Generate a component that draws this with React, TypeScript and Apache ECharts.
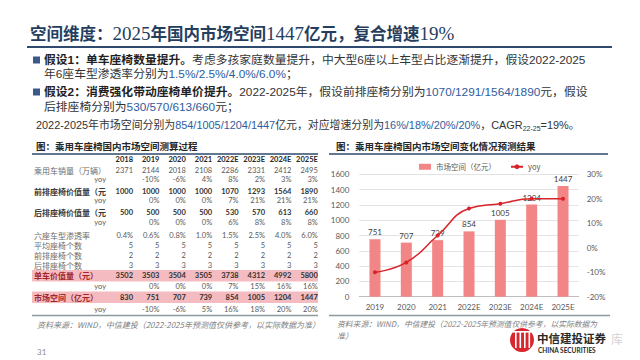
import React, { useEffect, useRef } from "react";
import * as echarts from "echarts";

// ---------- chart data ----------
const chartCategories = ["2019", "2020", "2021", "2022E", "2023E", "2024E", "2025E"];
const marketSpaceValues = [751, 707, 739, 854, 1005, 1204, 1447];
const marketYoyValues = [-10, -6, 5, 16, 18, 20, 20];

// ---------- table data ----------
const tableYears = ["2018", "2019", "2020", "2021", "2022E", "2023E", "2024E", "2025E"];
const salesVolume = ["2371", "2144", "2018", "2108", "2286", "2331", "2412", "2495"];
const salesYoy = ["", "-10%", "-6%", "4%", "8%", "2%", "3%", "3%"];
const frontSeatValue = ["1000", "1000", "1000", "1000", "1070", "1293", "1564", "1890"];
const frontSeatYoy = ["", "0%", "0%", "0%", "7%", "21%", "21%", "21%"];
const rearSeatValue = ["500", "500", "500", "500", "530", "570", "613", "660"];
const rearSeatYoy = ["", "0%", "0%", "0%", "6%", "8%", "8%", "8%"];
const sixSeatRate = ["0.4%", "0.6%", "0.8%", "1.0%", "1.5%", "2.5%", "4.0%", "6.0%"];
const avgSeats = ["5", "5", "5", "5", "5", "5", "5", "5"];
const frontSeats = ["2", "2", "2", "2", "2", "2", "2", "2"];
const rearSeats = ["3", "3", "3", "3", "3", "3", "3", "3"];
const perCarValue = ["3502", "3503", "3504", "3505", "3738", "4312", "4992", "5800"];
const perCarYoy = ["", "0%", "0%", "0%", "7%", "15%", "16%", "16%"];
const marketSpaceTable = ["830", "751", "707", "739", "854", "1005", "1204", "1447"];
const marketSpaceYoy = ["", "-10%", "-6%", "5%", "16%", "18%", "20%", "20%"];

const rowLabels = [
  "乘用车销量（万辆）", "yoy", "前排座椅价值量（元", "yoy", "后排座椅价值量（元", "yoy",
  "六座车型渗透率", "平均座椅个数", "前排座椅个数", "后排座椅个数",
  "单车价值量（元）", "yoy", "市场空间（亿元）", "yoy",
];
const rowValues = [
  salesVolume, salesYoy, frontSeatValue, frontSeatYoy, rearSeatValue, rearSeatYoy,
  sixSeatRate, avgSeats, frontSeats, rearSeats, perCarValue, perCarYoy, marketSpaceTable, marketSpaceYoy,
];
// n = normal, y = yoy, b = bold, r = highlighted
const rowKinds = ["n", "y", "b", "y", "b", "y", "n", "n", "n", "n", "r", "y", "r", "y"];

// ---------- layout (positions only) ----------
const rowY = [170, 179.5, 191, 200.7, 212.3, 222.7, 235, 245, 255.3, 265.3, 275.7, 286.7, 297.3, 309.3];
const headerY = 159;
const colRight0 = 133;
const colStep = 26.4;

const CJK = "'Noto Sans CJK SC', 'Noto Sans', sans-serif";
const BODY = "'Liberation Sans', 'Noto Sans CJK SC', sans-serif";
const NUM = "Lato, 'Noto Sans CJK SC', sans-serif";
const GRAY = "#595959";
const NAVY = "#263E5E";
const BLUE = "#2E5D9F";

function txt(x: number, y: number, text: string, opt: any = {}) {
  const align = opt.align || "left";
  return {
    type: "text",
    x,
    y,
    z: opt.z ?? 10,
    style: {
      text,
      fill: opt.fill || GRAY,
      fontSize: opt.fontSize || 8,
      fontFamily: opt.fontFamily || CJK,
      fontWeight: opt.fontWeight || "normal",
      fontStyle: opt.fontStyle || "normal",
      align,
      textAlign: align,
      verticalAlign: "middle",
      textVerticalAlign: "middle",
      rich: opt.rich,
    },
  };
}

function makeRich(size: number) {
  return {
    b: { fontFamily: BODY, fontSize: size, lineHeight: 12, fontWeight: "bold", fill: "#1F1F1F" },
    t: { fontFamily: BODY, fontSize: size, lineHeight: 12, fill: "#333333" },
    h: { fontFamily: BODY, fontSize: size, lineHeight: 12, fill: BLUE },
    s: { fontFamily: BODY, fontSize: 7, lineHeight: 12, fill: "#333333", padding: [6, 0, 0, 0] },
  };
}

function buildGraphics() {
  const els: any[] = [];

  // Title
  els.push(
    txt(30, 33, "{c|空间维度：}{n|2025}{c|年国内市场空间}{n|1447}{c|亿元，复合增速}{n|19%}", {
      rich: {
        c: { fontFamily: CJK, fontSize: 16.5, fontWeight: "bold", fill: NAVY },
        n: { fontFamily: "'Liberation Serif', serif", fontSize: 19, fill: NAVY },
      },
    })
  );
  els.push({ type: "line", shape: { x1: 27, y1: 47, x2: 612, y2: 47 }, style: { stroke: "#2E4A6E", lineWidth: 2 } });

  const bRich = makeRich(11.8);
  const lRich = makeRich(10.9);
  // Bullets
  els.push({ type: "rect", shape: { x: 33, y: 56.5, width: 7, height: 7 }, style: { fill: "#3B5A8C" } });
  els.push(txt(44, 60, "{b|假设1：单车座椅数量提升。}{t|考虑多孩家庭数量提升，中大型6座以上车型占比逐渐提升，假设2022-2025}", { rich: bRich }));
  els.push(txt(44, 74, "{t|年6座车型渗透率分别为}{h|1.5%/2.5%/4.0%/6.0%}{t|；}", { rich: bRich }));
  els.push({ type: "rect", shape: { x: 33, y: 88.5, width: 7, height: 7 }, style: { fill: "#3B5A8C" } });
  els.push(txt(44, 92, "{b|假设2：消费强化带动座椅单价提升。}{t|2022-2025年，假设前排座椅分别为}{h|1070/1291/1564/1890}{t|元，假设}", { rich: bRich }));
  els.push(txt(44, 107, "{t|后排座椅分别为}{h|530/570/613/660}{t|元；}", { rich: bRich }));
  els.push(
    txt(36, 125, "{t|2022-2025年市场空间分别为}{h|854/1005/1204/1447}{t|亿元，对应增速分别为}{h|16%/18%/20%/20%}{t|，CAGR}{s|22-25}{t|=19%。}", {
      rich: lRich,
    })
  );

  // Captions
  els.push(txt(36, 146, "图：乘用车座椅国内市场空间测算过程", { fontSize: 9.5, fill: "#262626", fontWeight: "bold" }));
  els.push({ type: "line", shape: { x1: 32, y1: 154, x2: 318, y2: 154 }, style: { stroke: "#2E4A6E", lineWidth: 1.5 } });
  els.push(txt(336, 146, "图：乘用车座椅国内市场空间变化情况预测结果", { fontSize: 9.5, fill: "#262626", fontWeight: "bold" }));
  els.push({ type: "line", shape: { x1: 329, y1: 154, x2: 608, y2: 154 }, style: { stroke: "#2E4A6E", lineWidth: 1.5 } });

  // Table header
  tableYears.forEach((yr, i) => {
    els.push(txt(colRight0 + colStep * i, headerY, yr, { align: "right", fontFamily: NUM, fontWeight: "bold", fill: "#262626", fontSize: 7.5 }));
  });

  // Table rows
  rowLabels.forEach((label, r) => {
    const kind = rowKinds[r];
    const y = rowY[r];
    if (kind === "r") {
      els.push({ type: "rect", z: 1, shape: { x: 32, y: y - 5.7, width: 286, height: 11.4 }, style: { fill: "#F4BCC0" } });
    }
    const labelOpt: any = { fontSize: 8, fill: "#6A6A6A" };
    if (kind === "b") Object.assign(labelOpt, { fontWeight: "bold", fill: "#3A3A3A" });
    if (kind === "r") Object.assign(labelOpt, { fontWeight: "bold", fill: "#A3262C" });
    if (kind === "y") {
      els.push(txt(106, y, label, { align: "right", fontFamily: NUM, fontSize: 7.5 }));
    } else {
      els.push(txt(34, y, label, labelOpt));
    }
    rowValues[r].forEach((v, i) => {
      if (!v) return;
      const bold = kind === "b" || kind === "r";
      els.push(
        txt(colRight0 + colStep * i, y, v, {
          align: "right",
          fontFamily: NUM,
          fontSize: 7.5,
          fontWeight: bold ? "bold" : "normal",
          fill: bold ? "#333333" : GRAY,
        })
      );
    });
  });

  // Bottom rules
  els.push({ type: "line", shape: { x1: 32, y1: 315.5, x2: 318, y2: 315.5 }, style: { stroke: "#8A9A9A", lineWidth: 1.5 } });
  els.push({ type: "line", shape: { x1: 329, y1: 315.5, x2: 610, y2: 315.5 }, style: { stroke: "#8A9A9A", lineWidth: 1.5 } });

  // Sources
  const srcOpt = { fontSize: 8, fill: "#808080", fontStyle: "italic" };
  els.push(txt(37, 324, "资料来源：WIND，中信建投（2022-2025年预测值仅供参考，以实际数据为准）", srcOpt));
  els.push(txt(337, 323.5, "资料来源：WIND，中信建投（2022-2025年预测值仅供参考，以实际数据为", { ...srcOpt, fontSize: 7.8 }));
  els.push(txt(337, 335, "准）", srcOpt));

  // Page number
  els.push(txt(37, 352, "31", { fontSize: 8, fill: "#8C8C8C", fontFamily: NUM }));

  // Logo
  els.push({ type: "circle", shape: { cx: 522, cy: 340, r: 12 }, style: { fill: "#D7282F" } });
  [515, 519.5, 524, 528.5].forEach((x) => {
    els.push({ type: "rect", z: 11, shape: { x, y: 332, width: 1.6, height: 16 }, style: { fill: "#ffffff" } });
  });
  els.push({ type: "rect", z: 11, shape: { x: 513, y: 331, width: 18, height: 1.6 }, style: { fill: "#ffffff" } });
  els.push(txt(537, 338, "中信建投证券", { fontSize: 11.5, fontWeight: "bold", fill: "#2A2A2A" }));
  els.push(txt(538, 350, "CHINA SECURITIES", { fontSize: 6.5, fontWeight: "bold", fill: "#2A2A2A", fontFamily: NUM }));
  els.push(txt(611, 338, "库", { fontSize: 12, fill: "#D2D2D2" }));

  return els;
}

export default function App() {
  const ref = useRef<HTMLDivElement>(null);
  useEffect(() => {
    document.body.style.margin = "0";
    if (!ref.current) return;
    const chart = echarts.init(ref.current, undefined, { renderer: "svg" });
    chart.setOption({
      animation: false,
      backgroundColor: "#ffffff",
      textStyle: { fontFamily: CJK },
      legend: {
        data: [
          { name: "市场空间（亿元）", icon: "rect" },
          { name: "yoy" },
        ],
        left: 414,
        top: 158,
        itemWidth: 12,
        itemHeight: 6,
        itemGap: 14,
        textStyle: { fontSize: 7.5, color: GRAY, fontFamily: CJK },
      },
      grid: { left: 359.3, top: 174.3, width: 219.4, height: 122.4, containLabel: false },
      xAxis: {
        type: "category",
        data: chartCategories,
        axisLine: { lineStyle: { color: "#BFBFBF" } },
        axisTick: { show: false },
        axisLabel: { color: GRAY, fontSize: 8, margin: 6, fontFamily: NUM },
      },
      yAxis: [
        {
          type: "value",
          min: 0,
          max: 1600,
          interval: 200,
          axisLine: { show: false },
          axisTick: { show: false },
          axisLabel: { color: GRAY, fontSize: 8, margin: 10, fontFamily: NUM, formatter: (v: number) => String(v) },
          splitLine: { lineStyle: { color: "#E3E3E3" } },
        },
        {
          type: "value",
          min: -20,
          max: 30,
          interval: 10,
          position: "right",
          axisLine: { show: false },
          axisTick: { show: false },
          axisLabel: { color: GRAY, fontSize: 8, margin: 8, fontFamily: NUM, formatter: "{value}%" },
          splitLine: { show: false },
        },
      ],
      series: [
        {
          name: "市场空间（亿元）",
          type: "bar",
          data: marketSpaceValues,
          barWidth: 11,
          z: 2,
          itemStyle: { color: "#F28585" },
          label: { show: true, position: "top", distance: 3, fontSize: 8, color: "#404040", fontFamily: NUM },
        },
        {
          name: "yoy",
          type: "line",
          yAxisIndex: 1,
          data: marketYoyValues,
          smooth: true,
          z: 3,
          symbol: "circle",
          symbolSize: 4,
          itemStyle: { color: "#D8232A" },
          lineStyle: { color: "#D8232A", width: 1.5 },
        },
      ],
      graphic: { elements: buildGraphics() },
    });
    return () => chart.dispose();
  }, []);
  return <div ref={ref} style={{ position: "absolute", left: 0, top: 0, width: 640, height: 360 }} />;
}
